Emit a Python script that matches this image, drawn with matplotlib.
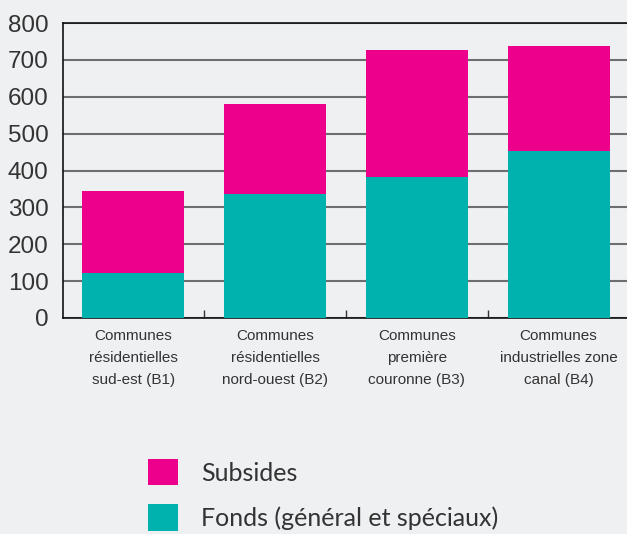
import matplotlib
matplotlib.use("Agg")
import matplotlib.pyplot as plt

categories = ["Communes\nrésidentielles\nsud-est (B1)",
              "Communes\nrésidentielles\nnord-ouest (B2)",
              "Communes\npremière\ncouronne (B3)",
              "Communes\nindustrielles zone\ncanal (B4)"]
fonds = [122, 336, 382, 453]
subsides = [222, 244, 344, 284]
yticks = [0, 100, 200, 300, 400, 500, 600, 700, 800]

FONT = "Liberation Sans"
BG = "#eff0f2"
MAG = "#ec008c"
TEAL = "#00b2ae"

W, H = 627, 534
fig = plt.figure(figsize=(W / 100, H / 100), dpi=100, facecolor=BG)
left, right, top, bottom = 62.5, 629.5, 23, 318
ax = fig.add_axes([left / W, 1 - bottom / H, (right - left) / W, (bottom - top) / H])
ax.set_facecolor(BG)

x = list(range(len(categories)))
b1 = ax.bar(x, fonds, width=0.72, color=TEAL, zorder=3, label="Fonds (général et spéciaux)")
b2 = ax.bar(x, subsides, bottom=fonds, width=0.72, color=MAG, zorder=3, label="Subsides")

ax.set_xlim(-0.5, 3.5)
ax.set_ylim(0, 800)
ax.set_yticks(yticks)
ax.set_yticklabels([str(v) for v in yticks], fontsize=17.5, color="#333333", family=FONT)
ax.tick_params(axis="y", length=0, pad=10)
ax.yaxis.grid(True, color="#6e6e6e", linewidth=1.5, zorder=0)
ax.set_axisbelow(True)

ax.set_xticks(x)
ax.set_xticklabels(categories, fontsize=11, color="#333333", family=FONT, linespacing=1.7)
ax.tick_params(axis="x", length=0, pad=8)
ax.set_xticks([0.5, 1.5, 2.5], minor=True)
ax.tick_params(axis="x", which="minor", direction="in", length=6, width=1, color="#333333")

for s in ["left", "bottom", "top"]:
    ax.spines[s].set_color("#111111")
    ax.spines[s].set_linewidth(1.2)
ax.spines["right"].set_visible(False)

leg = fig.legend(handles=[b2, b1], loc="upper left",
                 bbox_to_anchor=(148 / W, 1 - 459 / H),
                 frameon=False, prop={"family": "Lato", "size": 18},
                 handlelength=1.2, handleheight=1.24, handletextpad=0.92,
                 labelspacing=0.76, borderpad=0, borderaxespad=0)
for t in leg.get_texts():
    t.set_color("#333333")

fig.savefig("out.png", dpi=100, facecolor=BG)
